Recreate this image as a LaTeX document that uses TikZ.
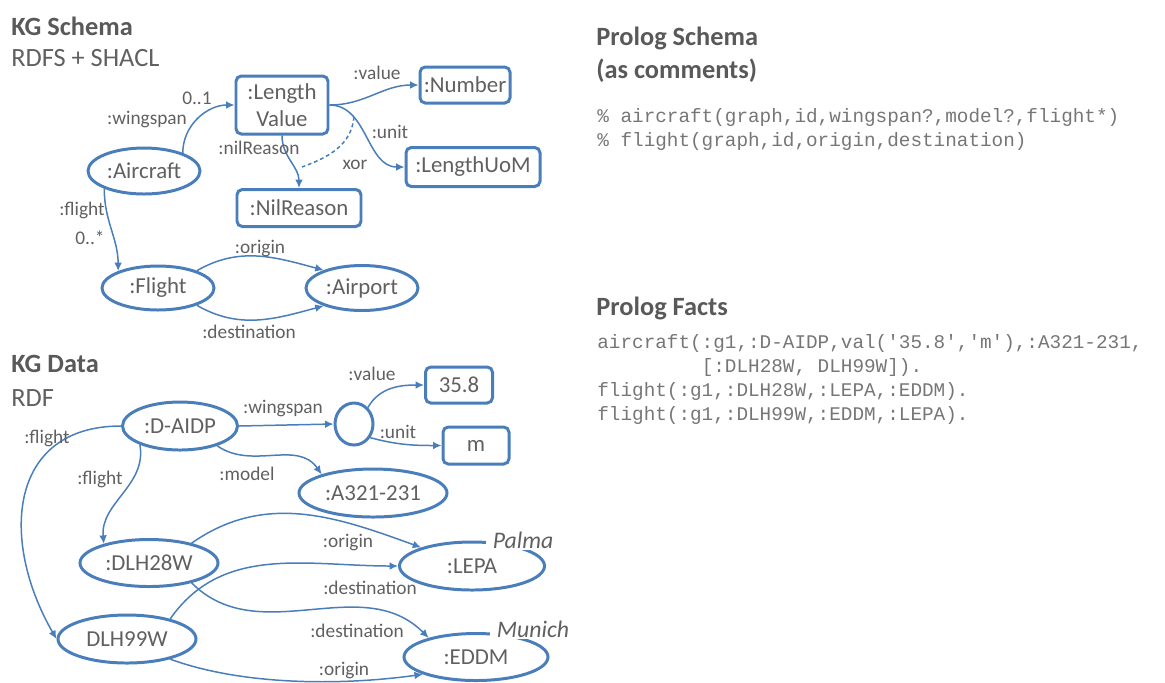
\documentclass[tikz,border=0pt]{standalone}
\usepackage{fontspec}
\setmainfont{Carlito}
\setmonofont{Liberation Mono}
\usetikzlibrary{arrows.meta,positioning,shapes.geometric}
\definecolor{rdfblue}{RGB}{74,126,187}
\definecolor{inkgray}{RGB}{96,96,96}
\definecolor{headgray}{RGB}{89,89,89}
\definecolor{codegray}{RGB}{118,118,118}

\begin{document}
\begin{tikzpicture}[
    cls/.style={draw=rdfblue, line width=1.7pt, ellipse, inner sep=0pt, text=inkgray, font=\fontsize{13}{15.6}\selectfont},
    lit/.style={draw=rdfblue, line width=1.7pt, rounded corners=3pt, inner sep=0pt, align=center, text=inkgray, font=\fontsize{13}{15.6}\selectfont},
    lbl/.style={text=inkgray, inner sep=0pt, font=\fontsize{11}{13}\selectfont},
    city/.style={text=inkgray, fill=white, inner xsep=4pt, inner ysep=1pt, font=\fontsize{13.5}{16}\selectfont\itshape},
    heading/.style={anchor=west, inner sep=0pt, align=left, text=headgray, font=\fontsize{15}{18.8}\selectfont\bfseries},
    subheading/.style={anchor=west, inner sep=0pt, text=inkgray, font=\fontsize{15}{18}\selectfont},
    code/.style={anchor=west, inner sep=0pt, align=left, text=codegray, font=\fontsize{11}{13.66}\selectfont\ttfamily},
    link/.style={draw=rdfblue, line width=0.85pt},
    >={Latex[length=4.8pt,width=4.4pt]}
]
  \useasboundingbox (0,0) rectangle (23.3,-13.64);

  % schema
  \node[heading] (schematitle) at (0.22,-0.52) {KG Schema};
  \node[subheading] (schemasub) at (0.22,-1.16) {RDFS + SHACL};
  \node[cls, minimum width=2.24cm, minimum height=0.92cm] (aircraft) at (2.88,-3.42) {:Aircraft};
  \node[cls, minimum width=2.24cm, minimum height=0.88cm] (flight) at (3.16,-5.76) {:Flight};
  \node[cls, minimum width=2.24cm, minimum height=0.90cm] (airport) at (7.24,-5.76) {:Airport};
  \node[lit, minimum width=1.84cm, minimum height=1.16cm] (lenval) at (5.64,-2.10) {:Length\\Value};
  \node[lit, minimum width=1.80cm, minimum height=0.72cm] (number) at (9.30,-1.70) {:Number};
  \node[lit, minimum width=2.68cm, minimum height=0.78cm] (uom) at (9.46,-3.34) {:LengthUoM};
  \node[lit, minimum width=2.48cm, minimum height=0.74cm] (nilreason) at (5.98,-4.16) {:NilReason};

  \draw[->, link] (aircraft.25) to[out=90, in=180] (lenval.west);
  \draw[->, link] (lenval.east) to[out=0, in=180] (number.west);
  \draw[->, link] (lenval.east) to[out=0, in=180] coordinate[pos=0.28] (xora) (uom.west);
  \draw[->, link] (lenval.south) to[out=-90, in=90] (nilreason.north);
  \coordinate (xorb) at (6.04,-3.34);
  \draw[link, dash pattern=on 2.2pt off 1.6pt] (xora) to[out=-95, in=20] (xorb);
  \draw[->, link] (aircraft.204) to[out=-90, in=90] (flight.157);
  \draw[->, link] (flight.24) to[out=30, in=165] (airport.155);
  \draw[->, link] (flight.-24) to[out=-30, in=-165] (airport.-155);

  \node[lbl] (lcard) at (3.94,-1.96) {0..1};
  \node[lbl] (lwing) at (2.94,-2.38) {:wingspan};
  \node[lbl] (lval) at (7.54,-1.46) {:value};
  \node[lbl] (lunit) at (7.80,-2.64) {:unit};
  \node[lbl] (lnil) at (5.18,-2.96) {:nilReason};
  \node[lbl] (lxor) at (7.10,-3.30) {xor};
  \node[lbl] (lflight) at (1.64,-4.20) {:flight};
  \node[lbl] (lmany) at (1.80,-4.76) {0..*};
  \node[lbl] (lorig) at (5.20,-4.96) {:origin};
  \node[lbl] (ldest) at (4.98,-6.64) {:destination};

  % data
  \node[heading] (datatitle) at (0.22,-7.28) {KG Data};
  \node[subheading] (datasub) at (0.22,-7.96) {RDF};
  \node[cls, minimum width=2.30cm, minimum height=0.96cm] (daidp) at (3.60,-8.52) {:D-AIDP};
  \node[cls, minimum width=0.76cm, minimum height=0.84cm] (blank) at (7.08,-8.48) {};
  \node[lit, minimum width=1.34cm, minimum height=0.72cm] (val) at (9.18,-7.70) {35.8};
  \node[lit, minimum width=1.32cm, minimum height=0.74cm] (unitm) at (9.52,-8.91) {m};
  \node[cls, minimum width=2.96cm, minimum height=0.96cm] (a321) at (7.46,-9.86) {:A321-231};
  \node[cls, minimum width=2.76cm, minimum height=0.94cm] (dlh28) at (2.98,-11.26) {:DLH28W};
  \node[cls, minimum width=2.90cm, minimum height=0.96cm] (lepa) at (9.44,-11.32) {:LEPA};
  \node[cls, minimum width=2.76cm, minimum height=0.96cm] (dlh99) at (2.54,-12.78) {DLH99W};
  \node[cls, minimum width=2.88cm, minimum height=0.94cm] (eddm) at (9.52,-13.14) {:EDDM};
  \node[city] (palma) at (10.46,-10.80) {Palma};
  \node[city] (munich) at (10.66,-12.58) {Munich};

  \draw[->, link] (daidp.east) -- (blank.west);
  \draw[->, link] (blank.50) to[out=60, in=180] (val.west);
  \draw[->, link] (blank.-40) to[out=-15, in=180] (unitm.west);
  \draw[->, link] (daidp.-28) to[out=-35, in=125] (a321.160);
  \draw[->, link] (daidp.west) to[out=180, in=120, looseness=1.3] (dlh99.west);
  \draw[->, link] (daidp.205) to[out=-80, in=95] (dlh28.157);
  \draw[->, link] (dlh28.25) to[out=35, in=160] (lepa.160);
  \draw[->, link] (dlh28.-25) to[out=-45, in=135] (eddm.158);
  \draw[->, link] (dlh99.25) to[out=55, in=180] (lepa.west);
  \draw[->, link] (dlh99.-25) to[out=-20, in=188, looseness=0.8] (eddm.198);

  \node[lbl] (dval) at (7.44,-7.48) {:value};
  \node[lbl] (dwing) at (5.66,-8.16) {:wingspan};
  \node[lbl] (dunit) at (7.96,-8.64) {:unit};
  \node[lbl] (dmodel) at (4.94,-9.48) {:model};
  \node[lbl] (dflighta) at (0.94,-8.76) {:flight};
  \node[lbl] (dflightb) at (2.00,-9.58) {:flight};
  \node[lbl] (doriga) at (6.96,-10.84) {:origin};
  \node[lbl] (ddesta) at (7.40,-11.76) {:destination};
  \node[lbl] (ddestb) at (7.14,-12.62) {:destination};
  \node[lbl] (dorigb) at (6.88,-13.40) {:origin};

  % prolog
  \node[heading] (plschema) at (11.92,-1.09) {Prolog Schema\\(as comments)};
  \node[code] (plcomments) at (11.94,-2.58) {\% aircraft(graph,id,wingspan?,model?,flight*)\\\% flight(graph,id,origin,destination)};
  \node[heading] (plfacts) at (11.92,-6.16) {Prolog Facts};
  \node[code] (plclauses) at (11.94,-7.58) {aircraft(:g1,:D-AIDP,val('35.8','m'),:A321-231,\\\hphantom{aircraft(}[:DLH28W, DLH99W]).\\flight(:g1,:DLH28W,:LEPA,:EDDM).\\flight(:g1,:DLH99W,:EDDM,:LEPA).};
\end{tikzpicture}
\end{document}
